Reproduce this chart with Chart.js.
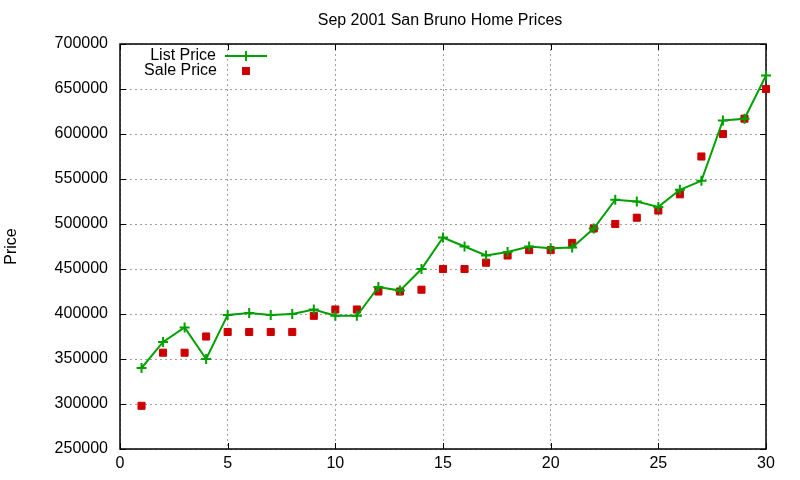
<!DOCTYPE html>
<html>
<head>
<meta charset="utf-8">
<script src="https://cdn.jsdelivr.net/npm/chart.js@4.4.0/dist/chart.umd.min.js"></script>
<style>
  html, body { margin: 0; padding: 0; background: #fff; }
</style>
</head>
<body>
<canvas id="chart-area" width="800" height="480"></canvas>
<script>
// data
var days = [1, 2, 3, 4, 5, 6, 7, 8, 9, 10, 11, 12, 13, 14, 15,
            16, 17, 18, 19, 20, 21, 22, 23, 24, 25, 26, 27, 28, 29, 30];
var listPrice = [340000, 369000, 385000, 350000, 399000, 401000, 399000, 400000, 405000, 398000,
                 398000, 430000, 426000, 450000, 485000, 475000, 465000, 469000, 475000, 473000,
                 474000, 495000, 527000, 525000, 519000, 538000, 548000, 615000, 617000, 665000];
var salePrice = [298000, 357000, 357000, 375000, 380000, 380000, 380000, 380000, 398000, 405000,
                 405000, 425000, 425000, 427000, 450000, 450000, 457000, 465000, 471000, 471000,
                 479000, 495000, 500000, 507000, 515000, 533000, 575000, 600000, 617000, 650000];
var xTicks = [0, 5, 10, 15, 20, 25, 30];
var yTicks = [250000, 300000, 350000, 400000, 450000, 500000, 550000, 600000, 650000, 700000];

var chartTitle = 'Sep 2001 San Bruno Home Prices';
var GREEN = 'rgb(0,160,0)';
var RED = 'rgb(204,0,0)';
var FONT = '16px "Liberation Sans", Arial, sans-serif';

function toPoints(ys) {
  return days.map(function (d, i) { return { x: d, y: ys[i] }; });
}

// gnuplot style frame, inward ticks, title and legend
var gnuplotBits = {
  id: 'gnuplotBits',
  beforeDatasetsDraw: function (chart) {
    var ctx = chart.ctx, a = chart.chartArea;
    var xs = chart.scales.x, ys = chart.scales.y;
    ctx.save();
    ctx.strokeStyle = '#000';
    ctx.lineWidth = 1;
    ctx.beginPath();
    xTicks.forEach(function (t) {
      var px = Math.round(xs.getPixelForValue(t)) + 0.5;
      ctx.moveTo(px, a.bottom); ctx.lineTo(px, a.bottom - 6);
      ctx.moveTo(px, a.top); ctx.lineTo(px, a.top + 6);
    });
    yTicks.forEach(function (t) {
      var py = Math.round(ys.getPixelForValue(t)) + 0.5;
      ctx.moveTo(a.left, py); ctx.lineTo(a.left + 6, py);
      ctx.moveTo(a.right, py); ctx.lineTo(a.right - 6, py);
    });
    ctx.stroke();
    ctx.lineWidth = 1.5;
    ctx.strokeRect(a.left, a.top, a.right - a.left, a.bottom - a.top);
    ctx.restore();
  },
  afterDraw: function (chart) {
    var ctx = chart.ctx, a = chart.chartArea;
    ctx.save();
    ctx.fillStyle = '#000';
    ctx.font = FONT;
    ctx.textBaseline = 'middle';
    ctx.textAlign = 'center';
    ctx.fillText(chartTitle, (a.left + a.right) / 2 - 3, 21);

    // legend: text then sample
    ctx.textAlign = 'right';
    ctx.fillText('List Price', 216, 56);
    ctx.fillText('Sale Price', 217, 71);
    ctx.strokeStyle = GREEN;
    ctx.lineWidth = 2;
    ctx.beginPath();
    ctx.moveTo(225, 56); ctx.lineTo(267, 56);
    ctx.moveTo(246, 51); ctx.lineTo(246, 61);
    ctx.stroke();
    ctx.fillStyle = RED;
    ctx.fillRect(242, 67, 8, 8);
    ctx.restore();
  }
};

var config = {
  type: 'line',
  data: {
    datasets: [{
      label: 'List Price',
      data: toPoints(listPrice),
      borderColor: GREEN,
      backgroundColor: GREEN,
      borderWidth: 2,
      pointStyle: 'cross',
      pointRadius: 5,
      pointBorderWidth: 2,
      pointHoverRadius: 5,
      tension: 0,
      clip: false
    }, {
      label: 'Sale Price',
      data: toPoints(salePrice),
      showLine: false,
      borderColor: RED,
      backgroundColor: RED,
      pointStyle: 'rect',
      pointRadius: 5,
      pointBorderWidth: 1,
      pointHoverRadius: 5,
      clip: false
    }]
  },
  options: {
    responsive: false,
    animation: false,
    layout: { padding: { top: 44, right: 34, left: 0, bottom: 0 } },
    plugins: {
      legend: { display: false },
      title: { display: false },
      tooltip: { enabled: false }
    },
    scales: {
      x: {
        type: 'linear',
        min: 0,
        max: 30,
        afterBuildTicks: function (s) { s.ticks = xTicks.map(function (v) { return { value: v }; }); },
        afterFit: function (s) { s.height = 31; },
        border: { display: false, dash: [2, 3] },
        grid: {
          color: '#a0a0a0',
          lineWidth: 1,
          drawTicks: false
        },
        ticks: {
          color: '#000',
          font: { family: '"Liberation Sans", Arial, sans-serif', size: 16 },
          padding: 5,
          maxRotation: 0
        }
      },
      y: {
        min: 250000,
        max: 700000,
        afterBuildTicks: function (s) { s.ticks = yTicks.map(function (v) { return { value: v }; }); },
        afterFit: function (s) { s.width = 120; },
        border: { display: false, dash: [2, 3] },
        grid: {
          color: '#a0a0a0',
          lineWidth: 1,
          drawTicks: false
        },
        ticks: {
          color: '#000',
          font: { family: '"Liberation Sans", Arial, sans-serif', size: 16 },
          padding: 12,
          callback: function (v) { return String(v); }
        },
        title: {
          display: true,
          text: 'Price',
          color: '#000',
          font: { family: '"Liberation Sans", Arial, sans-serif', size: 16 },
          padding: { top: 2, bottom: 0 }
        }
      }
    }
  },
  plugins: [gnuplotBits]
};

var ctx = document.getElementById('chart-area').getContext('2d');
window.priceChart = new Chart(ctx, config);
</script>
</body>
</html>
